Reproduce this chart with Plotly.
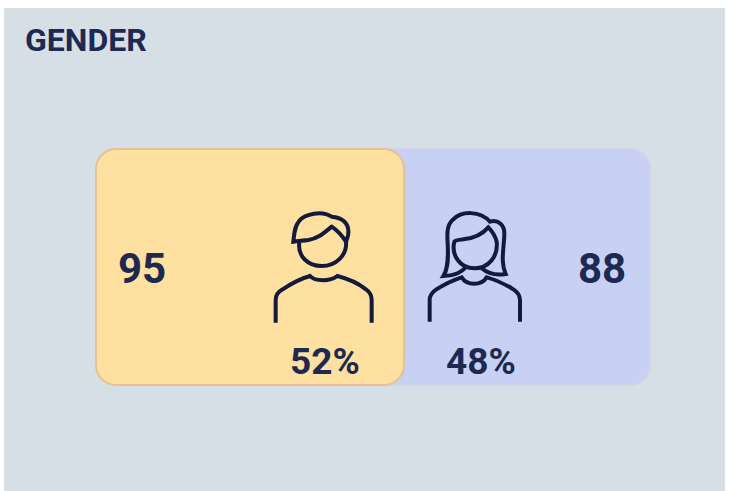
import re
import plotly.graph_objects as go

title = "GENDER"
genders = ["Male", "Female"]
counts = [95, 88]
shares = [52, 48]

INK = "#1e2952"
ICON = "#141a3c"
PANEL = "#d6dee6"
FONT = "Roboto"

# Panel and scale, in page pixels
PX0, PX1, PY0, PY1 = 4, 725, 8, 491
BAR_LEFT, BAR_RIGHT, BAR_TOP, BAR_BOTTOM = 96, 650, 149, 385
UNIT = (404 - BAR_LEFT) / counts[0]
span = (BAR_RIGHT - BAR_LEFT) / UNIT


def to_paper(px, py):
    return (px - PX0) / (PX1 - PX0), 1 - (py - PY0) / (PY1 - PY0)


def icon_path(d, ox, oy):
    """Take a path sketched at 3x about an origin and map it to paper coordinates."""
    out, is_x, cur = [], True, 0
    for tok in re.findall(r"[A-Za-z]|-?\d+\.?\d*", d):
        if tok.isalpha():
            out.append(tok)
            is_x = True
        elif is_x:
            cur = ox + float(tok) / 3
            is_x = False
        else:
            x, y = to_paper(cur, oy + float(tok) / 3)
            out.append(f"{x:.5f},{y:.5f}")
            is_x = True
    return " ".join(out)


MALE_PATHS = [
    "M47,368 L47,300 C47,285 55,275 68,268 C95,250 125,235 150,228 C165,245 210,245 232,228 C260,235 295,250 318,268 C330,276 335,285 335,300 L335,368",
    "M118,126 C112,170 145,198 185,198 C228,198 262,165 258,125",
    "M100,125 C103,100 103,80 118,62 C135,42 185,30 215,50 C235,52 262,60 265,90 C267,105 262,115 258,125 C245,105 230,90 215,80 C190,100 175,115 145,120 C130,122 115,123 100,125 Z",
]
FEMALE_PATHS = [
    "M44,365 L44,300 C44,285 52,276 64,268 C90,252 115,240 140,232 C155,258 200,258 215,232 C245,240 270,252 295,268 C308,276 315,285 315,300 L315,365",
    "M118,125 C108,165 135,205 178,205 C220,205 250,170 245,125 C240,105 230,92 220,82 C200,105 175,115 145,118 C130,120 122,120 118,125 Z",
    "M155,200 C140,215 125,226 85,228 C100,205 100,170 98,130 C96,100 95,75 115,58 C140,32 195,32 225,65 C250,58 268,75 268,100 C268,140 255,185 272,222 C250,226 225,226 200,205",
]

fig = go.Figure()
fig.add_bar(
    y=[(BAR_TOP + BAR_BOTTOM) / 2], x=[-counts[1]], base=[span], width=[BAR_BOTTOM - BAR_TOP],
    orientation="h", name=genders[1],
    marker=dict(color="#c8d1f3", line=dict(color="#cfd4e8", width=2), cornerradius=20),
)
fig.add_bar(
    y=[(BAR_TOP + BAR_BOTTOM) / 2], x=[counts[0]], base=[0], width=[BAR_BOTTOM - BAR_TOP],
    orientation="h", name=genders[0],
    marker=dict(color="#fee0a0", line=dict(color="#e6c196", width=2), cornerradius=20),
)

shapes = []
for paths, ox in ((MALE_PATHS, 260), (FEMALE_PATHS, 415)):
    for d in paths:
        shapes.append(dict(type="path", xref="paper", yref="paper", path=icon_path(d, ox, 200),
                           line=dict(color=ICON, width=4), fillcolor="rgba(0,0,0,0)", layer="above"))


def label(text, px, py, size, anchor="center"):
    x, y = to_paper(px, py)
    return dict(text=text, x=x, y=y, xref="paper", yref="paper", showarrow=False, xanchor=anchor,
                yanchor="middle", font=dict(family=FONT, size=size, color=INK, weight="bold"))


annotations = [
    label(title, 23, 40, 32, "left"),
    label(str(counts[0]), 142, 268, 42),
    label(str(counts[1]), 602, 268, 42),
    label(f"{shares[0]}%", 325, 361, 37),
    label(f"{shares[1]}%", 481, 361, 37),
]

fig.update_layout(
    width=730, height=491, autosize=False,
    margin=dict(l=PX0, r=730 - PX1, t=PY0, b=491 - PY1, pad=0),
    paper_bgcolor="white", plot_bgcolor=PANEL,
    barmode="overlay", showlegend=False,
    xaxis=dict(range=[(PX0 - BAR_LEFT) / UNIT, (PX1 - BAR_LEFT) / UNIT], visible=False, fixedrange=True),
    yaxis=dict(range=[PY1, PY0], visible=False, fixedrange=True),
    shapes=shapes, annotations=annotations,
)

fig.write_html(
    "out.html",
    config=dict(displayModeBar=False),
    post_script="document.documentElement.style.overflow='hidden';document.body.style.margin='0';document.body.style.overflow='hidden';",
)
